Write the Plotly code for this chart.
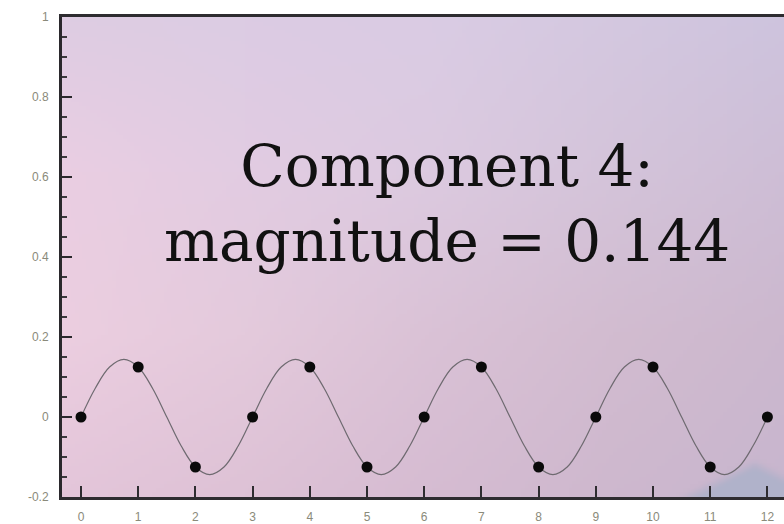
import base64
import struct
import zlib

import plotly.graph_objects as go

# Sampled points of component 4
sample_x = [0, 1, 2, 3, 4, 5, 6, 7, 8, 9, 10, 11, 12]
sample_y = [0, 0.125, -0.125, 0, 0.125, -0.125, 0, 0.125, -0.125, 0, 0.125, -0.125, 0]

# Continuous wave knots (every quarter unit, twelve per period)
curve_x = [0, 0.25, 0.5, 0.75, 1, 1.25, 1.5, 1.75, 2, 2.25, 2.5, 2.75,
           3, 3.25, 3.5, 3.75, 4, 4.25, 4.5, 4.75, 5, 5.25, 5.5, 5.75,
           6, 6.25, 6.5, 6.75, 7, 7.25, 7.5, 7.75, 8, 8.25, 8.5, 8.75,
           9, 9.25, 9.5, 9.75, 10, 10.25, 10.5, 10.75, 11, 11.25, 11.5, 11.75,
           12]
curve_y = [0, 0.072, 0.125, 0.144, 0.125, 0.072, 0, -0.072, -0.125, -0.144, -0.125, -0.072,
           0, 0.072, 0.125, 0.144, 0.125, 0.072, 0, -0.072, -0.125, -0.144, -0.125, -0.072,
           0, 0.072, 0.125, 0.144, 0.125, 0.072, 0, -0.072, -0.125, -0.144, -0.125, -0.072,
           0, 0.072, 0.125, 0.144, 0.125, 0.072, 0, -0.072, -0.125, -0.144, -0.125, -0.072,
           0]

x_ticks = [0, 1, 2, 3, 4, 5, 6, 7, 8, 9, 10, 11, 12]
x_labels = ["0", "1", "2", "3", "4", "5", "6", "7", "8", "9", "10", "11", "12"]
y_ticks = [-0.2, 0, 0.2, 0.4, 0.6, 0.8, 1]
y_labels = ["-0.2", "0", "0.2", "0.4", "0.6", "0.8", "1"]

W, H = 784, 524


# ---- soft sky backdrop rendered to a small PNG ----
grid_x = [0, 200, 400, 600, 784]
grid_y = [0, 170, 350, 524]
grid_rgb = [
    [(222, 204, 226), (220, 204, 228), (218, 204, 228), (212, 200, 224), (206, 196, 222)],
    [(234, 206, 226), (226, 204, 226), (220, 202, 224), (212, 196, 218), (206, 190, 214)],
    [(236, 206, 224), (228, 202, 220), (218, 194, 214), (210, 188, 208), (204, 184, 206)],
    [(228, 198, 218), (222, 194, 214), (214, 188, 210), (206, 184, 206), (200, 182, 206)],
]
hill_rgb = (176, 178, 202)


def seg(vals, v):
    for i in range(len(vals) - 1):
        if v <= vals[i + 1]:
            return i, (v - vals[i]) / (vals[i + 1] - vals[i])
    return len(vals) - 2, 1.0


def smooth(t):
    t = max(0.0, min(1.0, t))
    return t * t * (3 - 2 * t)


def sky(px, py):
    i, tx = seg(grid_x, px)
    j, ty = seg(grid_y, py)
    out = []
    for c in range(3):
        a = grid_rgb[j][i][c] * (1 - tx) + grid_rgb[j][i + 1][c] * tx
        b = grid_rgb[j + 1][i][c] * (1 - tx) + grid_rgb[j + 1][i + 1][c] * tx
        out.append(a * (1 - ty) + b * ty)
    # hazy hill in the lower right corner
    ridge = 492 + abs(px - 752) * 0.5
    k = smooth((py - ridge) / 18 + 0.5)
    return [int(out[c] * (1 - k) + hill_rgb[c] * k) for c in range(3)]


step = 4
iw, ih = W // step, H // step + 1
rows = []
for r in range(ih):
    row = bytearray([0])
    for q in range(iw):
        row.extend(sky(q * step + step / 2, r * step + step / 2))
    rows.append(bytes(row))


def chunk(tag, data):
    body = tag + data
    return struct.pack(">I", len(data)) + body + struct.pack(">I", zlib.crc32(body) & 0xFFFFFFFF)


png = (b"\x89PNG\r\n\x1a\n"
       + chunk(b"IHDR", struct.pack(">IIBBBBB", iw, ih, 8, 2, 0, 0, 0))
       + chunk(b"IDAT", zlib.compress(b"".join(rows), 9))
       + chunk(b"IEND", b""))
backdrop = "data:image/png;base64," + base64.b64encode(png).decode()

# ---- figure ----
fig = go.Figure()
fig.add_trace(go.Scatter(
    x=curve_x, y=curve_y, mode="lines",
    line=dict(color="#6e6a70", width=1.2, shape="spline", smoothing=1.0),
    hoverinfo="skip", showlegend=False,
))
fig.add_trace(go.Scatter(
    x=sample_x, y=sample_y, mode="markers",
    marker=dict(color="#0a0a0a", size=11),
    showlegend=False,
))

fig.add_annotation(
    x=0.533, y=0.611, xref="paper", yref="paper",
    text="Component 4:<br>magnitude = 0.144",
    showarrow=False, align="center", xanchor="center", yanchor="middle",
    font=dict(family="DejaVu Serif", size=58, color="#111111"),
)

fig.add_layout_image(dict(
    source=backdrop, xref="paper", yref="paper", x=0, y=1,
    sizex=1, sizey=1, xanchor="left", yanchor="top",
    sizing="stretch", layer="below",
))

tick_font = dict(family="Liberation Sans, Arial", size=12, color="#8a8a7a")

fig.update_layout(
    width=W, height=H,
    margin=dict(l=62, r=0, t=17, b=27),
    paper_bgcolor="rgba(0,0,0,0)",
    plot_bgcolor="rgba(0,0,0,0)",
    showlegend=False,
    xaxis=dict(
        range=[-0.332, 12.29], showgrid=False, zeroline=False,
        showline=True, linecolor="#2e2c30", linewidth=2.5, mirror=True,
        tickvals=x_ticks, ticktext=x_labels,
        ticks="inside", ticklen=11, tickwidth=2, tickcolor="#2e2c30",
        ticklabelstandoff=7,
        tickfont=tick_font,
    ),
    yaxis=dict(
        range=[-0.2, 1], showgrid=False, zeroline=False,
        showline=True, linecolor="#2a282c", linewidth=3,
        tickvals=y_ticks, ticktext=y_labels,
        ticks="inside", ticklen=10, tickwidth=2, tickcolor="#2a282c",
        ticklabelstandoff=8,
        minor=dict(dtick=0.05, tick0=0, ticks="inside", ticklen=5,
                   tickwidth=1.5, tickcolor="#3a383c", showgrid=False),
        tickfont=tick_font,
    ),
)

fig.write_html("out.html")
